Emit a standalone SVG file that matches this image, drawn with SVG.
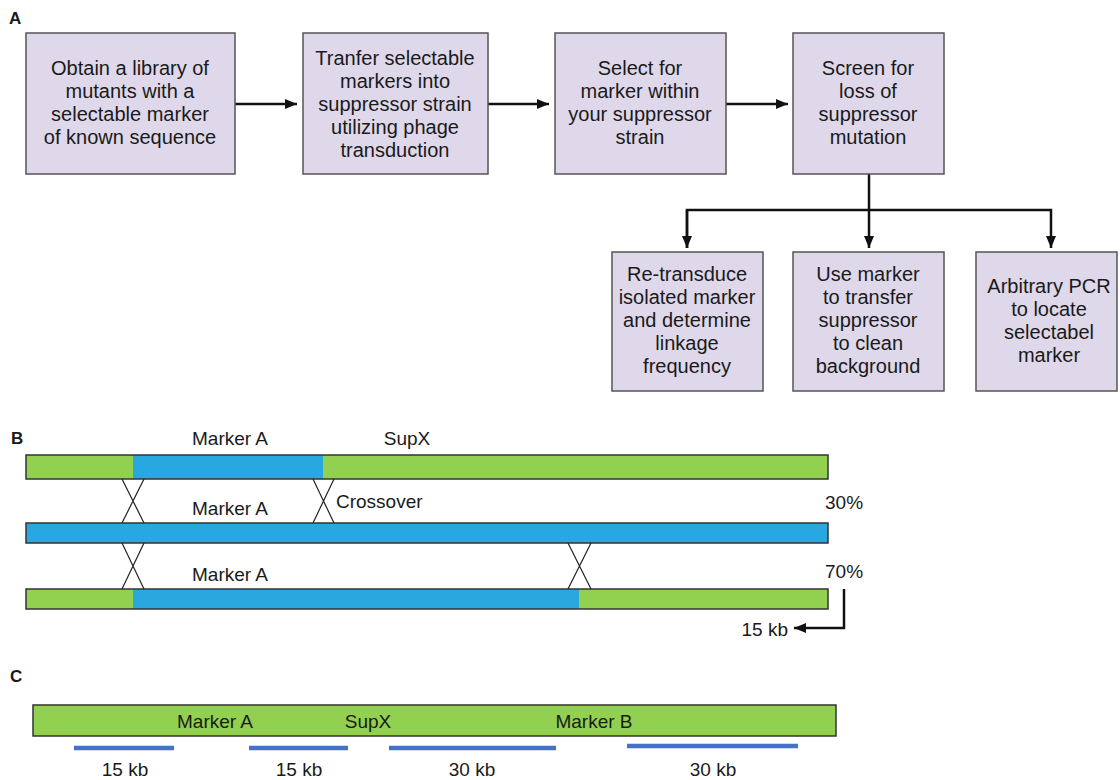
<svg xmlns="http://www.w3.org/2000/svg" width="1120" height="780" viewBox="0 0 1120 780">
<defs>
<style>
.box{fill:#dfd8ea;stroke:#555;stroke-width:1.5}
.t{font-family:"Liberation Sans",Arial,sans-serif;font-size:20px;fill:#1a1a1a;text-anchor:middle}
.lbl{font-family:"Liberation Sans",Arial,sans-serif;font-size:19px;fill:#1a1a1a}
.pl{font-family:"Liberation Sans",Arial,sans-serif;font-size:17px;font-weight:bold;fill:#1a1a1a}
.conn{fill:none;stroke:#111;stroke-width:2.5}
.gr{fill:#92d050}
.bl{fill:#29a8e0}
.bar{fill:none;stroke:#333;stroke-width:1.5}
.x{stroke:#222;stroke-width:1.2;fill:none}
.kb{stroke:#4472c4;stroke-width:4.5}
</style>
<marker id="ah" viewBox="0 0 12 10" refX="12" refY="5" markerWidth="12" markerHeight="10" markerUnits="userSpaceOnUse" orient="auto">
<path d="M0,0 L12,5 L0,10 z" fill="#111"/>
</marker>
</defs>
<rect width="1120" height="780" fill="#fff"/>

<text class="pl" x="9" y="24">A</text>
<text class="pl" x="11" y="444">B</text>
<text class="pl" x="10" y="682">C</text>

<g id="connectors">
<line class="conn" x1="235" y1="104" x2="297" y2="104" marker-end="url(#ah)"/>
<line class="conn" x1="488" y1="104" x2="549" y2="104" marker-end="url(#ah)"/>
<line class="conn" x1="726" y1="104" x2="788" y2="104" marker-end="url(#ah)"/>
<line class="conn" x1="869" y1="174" x2="869" y2="210"/>
<polyline class="conn" points="687,248 687,210 1051,210 1051,248" marker-end="url(#ah)"/>
<line class="conn" x1="687" y1="210" x2="687" y2="248" marker-end="url(#ah)"/>
<line class="conn" x1="869" y1="210" x2="869" y2="248" marker-end="url(#ah)"/>
</g>

<g id="n1"><rect class="box" x="26" y="33" width="209" height="141"/>
<text class="t"><tspan x="130" y="75">Obtain a library of</tspan><tspan x="130" y="98">mutants with a</tspan><tspan x="130" y="121">selectable marker</tspan><tspan x="130" y="144">of known sequence</tspan></text></g>
<g id="n2"><rect class="box" x="303" y="33" width="185" height="141"/>
<text class="t"><tspan x="395" y="65">Tranfer selectable</tspan><tspan x="395" y="88">markers into</tspan><tspan x="395" y="111">suppressor strain</tspan><tspan x="395" y="134">utilizing phage</tspan><tspan x="395" y="157">transduction</tspan></text></g>
<g id="n3"><rect class="box" x="555" y="33" width="171" height="141"/>
<text class="t"><tspan x="640" y="75">Select for</tspan><tspan x="640" y="98">marker within</tspan><tspan x="640" y="121">your suppressor</tspan><tspan x="640" y="144">strain</tspan></text></g>
<g id="n4"><rect class="box" x="793" y="33" width="151" height="141"/>
<text class="t"><tspan x="868" y="75">Screen for</tspan><tspan x="868" y="98">loss of</tspan><tspan x="868" y="121">suppressor</tspan><tspan x="868" y="144">mutation</tspan></text></g>
<g id="n5"><rect class="box" x="612" y="252" width="151" height="139"/>
<text class="t"><tspan x="687" y="281">Re-transduce</tspan><tspan x="687" y="304">isolated marker</tspan><tspan x="687" y="327">and determine</tspan><tspan x="687" y="350">linkage</tspan><tspan x="687" y="373">frequency</tspan></text></g>
<g id="n6"><rect class="box" x="793" y="252" width="151" height="139"/>
<text class="t"><tspan x="868" y="281">Use marker</tspan><tspan x="868" y="304">to transfer</tspan><tspan x="868" y="327">suppressor</tspan><tspan x="868" y="350">to clean</tspan><tspan x="868" y="373">background</tspan></text></g>
<g id="n7"><rect class="box" x="976" y="252" width="141" height="139"/>
<text class="t"><tspan x="1049" y="293">Arbitrary PCR</tspan><tspan x="1049" y="316">to locate</tspan><tspan x="1049" y="339">selectabel</tspan><tspan x="1049" y="362">marker</tspan></text></g>

<g id="panelB">
<rect class="gr" x="26" y="455" width="802" height="24"/>
<rect class="bl" x="133" y="455" width="190" height="24"/>
<rect class="bar" x="26" y="455" width="802" height="24"/>
<rect class="bl" x="26" y="523" width="802" height="20"/>
<rect class="bar" x="26" y="523" width="802" height="20"/>
<rect class="gr" x="26" y="589" width="802" height="20"/>
<rect class="bl" x="133" y="589" width="446" height="20"/>
<rect class="bar" x="26" y="589" width="802" height="20"/>
<path class="x" d="M122,479 L144,523 M144,479 L122,523"/>
<path class="x" d="M313,479 L334,523 M334,479 L313,523"/>
<path class="x" d="M122,543 L144,589 M144,543 L122,589"/>
<path class="x" d="M568,543 L591,589 M591,543 L568,589"/>
<text class="lbl" x="230" y="445" text-anchor="middle">Marker A</text>
<text class="lbl" x="407" y="445" text-anchor="middle">SupX</text>
<text class="lbl" x="230" y="515" text-anchor="middle">Marker A</text>
<text class="lbl" x="336" y="508">Crossover</text>
<text class="lbl" x="230" y="581" text-anchor="middle">Marker A</text>
<text class="lbl" x="825" y="509">30%</text>
<text class="lbl" x="825" y="578">70%</text>
<polyline class="conn" points="844,589 844,628 794,628" marker-end="url(#ah)"/>
<text class="lbl" x="788" y="636" text-anchor="end">15 kb</text>
</g>

<g id="panelC">
<rect class="gr" x="33" y="705" width="803" height="31"/>
<rect class="bar" x="33" y="705" width="803" height="31"/>
<text class="lbl" x="215" y="728" text-anchor="middle">Marker A</text>
<text class="lbl" x="368" y="728" text-anchor="middle">SupX</text>
<text class="lbl" x="594" y="728" text-anchor="middle">Marker B</text>
<line class="kb" x1="74" y1="748" x2="174" y2="748"/>
<line class="kb" x1="249" y1="748" x2="348" y2="748"/>
<line class="kb" x1="389" y1="748" x2="556" y2="748"/>
<line class="kb" x1="627" y1="746" x2="798" y2="746"/>
<text class="lbl" x="125" y="776" text-anchor="middle">15 kb</text>
<text class="lbl" x="299" y="776" text-anchor="middle">15 kb</text>
<text class="lbl" x="472" y="776" text-anchor="middle">30 kb</text>
<text class="lbl" x="713" y="776" text-anchor="middle">30 kb</text>
</g>
</svg>
